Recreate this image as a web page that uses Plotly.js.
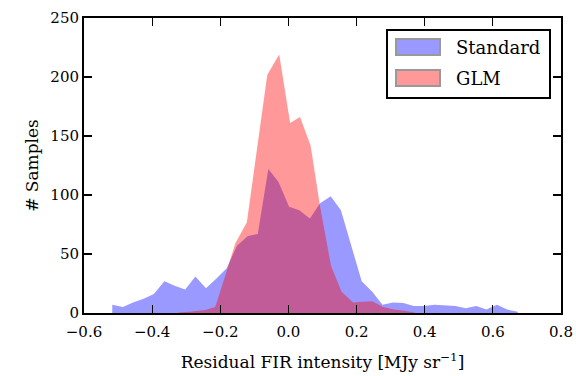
<!DOCTYPE html>
<html>
<head>
<meta charset="utf-8">
<script src="https://cdn.plot.ly/plotly-3.0.1.min.js"></script>
<style>html,body{margin:0;padding:0;background:#fff;}#chart{width:576px;height:376px;}</style>
</head>
<body>
<div id="chart"></div>
<script>
// Standard (blue) histogram outline: bin centres and counts
const standardX = [-0.517, -0.486, -0.456, -0.425, -0.395, -0.364, -0.334, -0.303, -0.273, -0.242,
  -0.212, -0.181, -0.151, -0.120, -0.090, -0.059, -0.029, 0.002, 0.032, 0.063,
  0.093, 0.124, 0.154, 0.185, 0.215, 0.246, 0.276, 0.307, 0.337, 0.368,
  0.398, 0.429, 0.459, 0.490, 0.520, 0.551, 0.581, 0.612, 0.642, 0.673];
const standardY = [7, 5, 9, 12, 16, 27, 23, 20, 31, 21,
  29, 38, 57, 65, 67, 122, 111, 90, 87, 80,
  93, 99, 87, 57, 27, 18, 7, 9, 8.5, 6,
  6, 7, 6.5, 6, 4, 6, 3, 7, 3, 1];

// GLM (red) histogram outline
const glmX = [-0.322, -0.290, -0.244, -0.215, -0.185, -0.156, -0.122, -0.093, -0.062, -0.027,
  0.005, 0.034, 0.065, 0.093, 0.125, 0.156, 0.190, 0.215, 0.246, 0.278, 0.310, 0.340, 0.370];
const glmY = [0.5, 1, 2.5, 5, 32, 59, 77, 137, 202, 219,
  161, 166, 142, 90, 40, 18, 9, 9.5, 10, 5, 3, 2, 0.5];

const seriesNames = ["Standard", "GLM"];
const xTickVals = [-0.6, -0.4, -0.2, 0.0, 0.2, 0.4, 0.6, 0.8];
const yTickVals = [0, 50, 100, 150, 200, 250];

const blueFill = "rgba(0,0,255,0.4)";
const redFill = "rgba(255,0,0,0.4)";
const FONT = "DejaVu Serif";

// plot area in pixels (for legend placement)
const L = 84, R = 561, T = 18, B = 313;
const px = x => (x - L) / (R - L);
const py = y => (B - y) / (B - T);

const traces = [
  {x: standardX, y: standardY, type: "scatter", mode: "lines", fill: "tozeroy",
   fillcolor: blueFill, line: {width: 0, color: blueFill}, name: seriesNames[0], showlegend: false, hoverinfo: "skip"},
  {x: glmX, y: glmY, type: "scatter", mode: "lines", fill: "tozeroy",
   fillcolor: redFill, line: {width: 0, color: redFill}, name: seriesNames[1], showlegend: false, hoverinfo: "skip"}
];

const shapes = [
  {type: "rect", xref: "paper", yref: "paper", x0: px(387), x1: px(550), y0: py(98), y1: py(30),
   line: {color: "black", width: 2}, fillcolor: "white", layer: "above"},
  {type: "rect", xref: "paper", yref: "paper", x0: px(396), x1: px(440), y0: py(55), y1: py(39),
   line: {color: "#999999", width: 2}, fillcolor: blueFill, layer: "above"},
  {type: "rect", xref: "paper", yref: "paper", x0: px(396), x1: px(440), y0: py(86), y1: py(70),
   line: {color: "#999999", width: 2}, fillcolor: redFill, layer: "above"}
];

const annotations = [
  {xref: "paper", yref: "paper", x: px(454), y: py(47), xanchor: "left", yanchor: "middle",
   text: seriesNames[0], showarrow: false, font: {family: FONT, size: 18, color: "black"}},
  {xref: "paper", yref: "paper", x: px(454), y: py(78), xanchor: "left", yanchor: "middle",
   text: seriesNames[1], showarrow: false, font: {family: FONT, size: 18, color: "black"}}
];

const axisCommon = {
  showline: true, linecolor: "black", linewidth: 2, mirror: "ticks",
  ticks: "inside", ticklen: 8, tickwidth: 1.2, tickcolor: "black",
  showgrid: false, zeroline: false,
  tickfont: {family: FONT, size: 15, color: "black"}
};

const layout = {
  width: 576, height: 376,
  margin: {l: L, r: 576 - R, t: T, b: 376 - B},
  paper_bgcolor: "white", plot_bgcolor: "white",
  showlegend: false,
  xaxis: Object.assign({}, axisCommon, {
    range: [-0.6, 0.8], tickvals: xTickVals, tickformat: ".1f", ticklabelstandoff: 4,
    title: {text: "Residual FIR intensity [MJy sr<sup>−1</sup>]", font: {family: FONT, size: 17, color: "black"}, standoff: 16}
  }),
  yaxis: Object.assign({}, axisCommon, {
    range: [0, 250], tickvals: yTickVals,
    title: {text: "# Samples", font: {family: FONT, size: 17, color: "black"}, standoff: 7}
  }),
  shapes: shapes,
  annotations: annotations
};

Plotly.newPlot("chart", traces, layout, {staticPlot: true, displayModeBar: false});
</script>
</body>
</html>
